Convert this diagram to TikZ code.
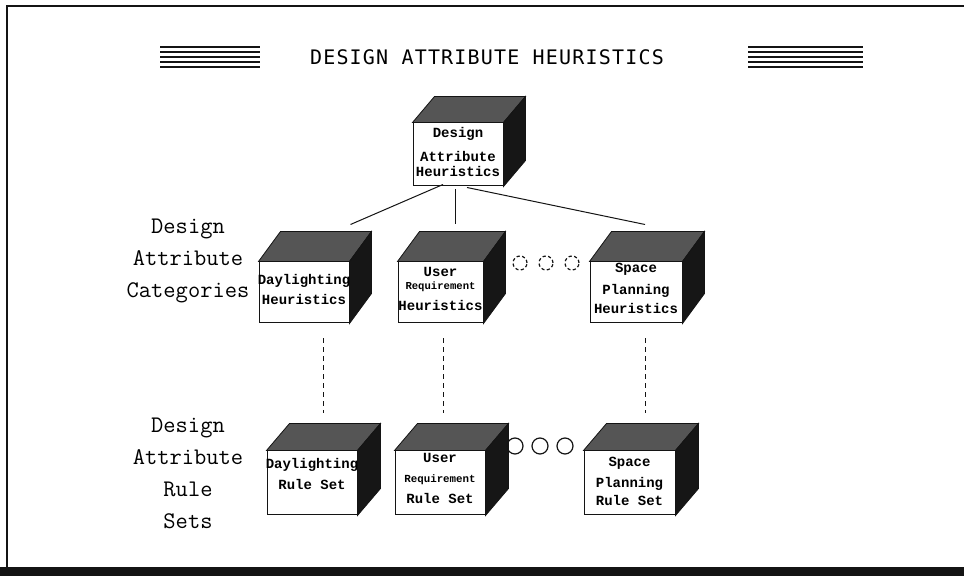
\documentclass[tikz,border=0pt]{standalone}
\usepackage{fontspec}
\usepackage{tikz}
\usetikzlibrary{calc}
\newfontfamily\titlefont[LetterSpace=6]{DejaVu Sans Mono}
\newfontfamily\boxfont{Liberation Mono}
\definecolor{figline}{RGB}{20,20,20}
\definecolor{figtop}{RGB}{85,85,85}
\definecolor{figside}{RGB}{22,22,22}
\tikzset{
  frm/.style   ={draw=figline, line width=1.2pt},
  hl/.style    ={draw=figline, line width=0.55pt},
  cfront/.style={draw=figline, line width=0.5pt, fill=white, inner sep=0pt},
  ctext/.style ={align=center, inner sep=0pt, font=\boxfont\bfseries\fontsize{7}{9}\selectfont},
  ctop/.style  ={fill=figtop, draw=figline, line width=0.4pt},
  cside/.style ={fill=figside, draw=figline, line width=0.4pt},
  lnk/.style   ={draw=figline, line width=0.5pt},
  dlnk/.style  ={draw=figline, line width=0.45pt, dash pattern=on 2.5pt off 2pt},
  side/.style  ={font=\ttfamily\fontsize{11.9}{16}\selectfont, align=center, inner sep=0pt},
  ttl/.style   ={font=\titlefont\fontsize{10}{12}\selectfont, inner sep=0pt},
  ring/.style  ={draw=figline, line width=0.6pt},
}
\begin{document}
\begin{tikzpicture}[x=0.5pt,y=-0.5pt]
  \useasboundingbox (0,0) rectangle (964,576);
  \fill[white] (0,0) rectangle (964,576);
  \draw[frm] (7,567) -- (7,6) -- (964,6);
  \fill[figline] (0,567) rectangle (964,576);
  \node[ttl] (hd) at (487,57) {DESIGN ATTRIBUTE HEURISTICS};
  \draw[hl] (160,47) -- (260,47);
  \draw[hl] (160,52) -- (260,52);
  \draw[hl] (160,57) -- (260,57);
  \draw[hl] (160,62) -- (260,62);
  \draw[hl] (160,67) -- (260,67);
  \draw[hl] (748,47) -- (863,47);
  \draw[hl] (748,52) -- (863,52);
  \draw[hl] (748,57) -- (863,57);
  \draw[hl] (748,62) -- (863,62);
  \draw[hl] (748,67) -- (863,67);
  \node[side] (cat) at (188,260.5) {Design\\Attribute\\Categories};
  \node[side] (rst) at (188,473.5) {Design\\Attribute\\Rule\\Sets};
  \node[cfront, minimum width=45pt, minimum height=31.5pt] (dah) at (458,154.5) {};
  \fill[ctop] (dah.north west) -- ($(dah.north west)+(22,-26)$) -- ($(dah.north east)+(22,-26)$) -- (dah.north east) -- cycle;
  \fill[cside] (dah.north east) -- ($(dah.north east)+(22,-26)$) -- ($(dah.south east)+(22,-26)$) -- (dah.south east) -- cycle;
  \node[ctext] (daht) at (458,152) {Design\\[3pt]Attribute\\[-1.3pt]Heuristics};
  \node[cfront, minimum width=45pt, minimum height=30.5pt] (dlh) at (304,292.5) {};
  \fill[ctop] (dlh.north west) -- ($(dlh.north west)+(22,-30)$) -- ($(dlh.north east)+(22,-30)$) -- (dlh.north east) -- cycle;
  \fill[cside] (dlh.north east) -- ($(dlh.north east)+(22,-30)$) -- ($(dlh.south east)+(22,-30)$) -- (dlh.south east) -- cycle;
  \node[ctext] (dlht) at (304,289.5) {Daylighting\\[0.7pt]Heuristics};
  \node[cfront, minimum width=42.5pt, minimum height=30.5pt] (urh) at (440.5,292.5) {};
  \fill[ctop] (urh.north west) -- ($(urh.north west)+(22,-30)$) -- ($(urh.north east)+(22,-30)$) -- (urh.north east) -- cycle;
  \fill[cside] (urh.north east) -- ($(urh.north east)+(22,-30)$) -- ($(urh.south east)+(22,-30)$) -- (urh.south east) -- cycle;
  \node[ctext] (urht) at (440.5,289) {User\\[-2.7pt]{\fontsize{5.3}{9}\selectfont Requirement}\\[1.8pt]Heuristics};
  \node[cfront, minimum width=46pt, minimum height=30.5pt] (sph) at (636,292.5) {};
  \fill[ctop] (sph.north west) -- ($(sph.north west)+(22,-30)$) -- ($(sph.north east)+(22,-30)$) -- (sph.north east) -- cycle;
  \fill[cside] (sph.north east) -- ($(sph.north east)+(22,-30)$) -- ($(sph.south east)+(22,-30)$) -- (sph.south east) -- cycle;
  \node[ctext] (spht) at (636,288.5) {Space\\[1.8pt]Planning\\[0.7pt]Heuristics};
  \node[cfront, minimum width=45pt, minimum height=32pt] (dlr) at (312,483) {};
  \fill[ctop] (dlr.north west) -- ($(dlr.north west)+(23,-27)$) -- ($(dlr.north east)+(23,-27)$) -- (dlr.north east) -- cycle;
  \fill[cside] (dlr.north east) -- ($(dlr.north east)+(23,-27)$) -- ($(dlr.south east)+(23,-27)$) -- (dlr.south east) -- cycle;
  \node[ctext] (dlrt) at (312,474) {Daylighting\\[1.8pt]Rule Set};
  \node[cfront, minimum width=45pt, minimum height=32pt] (urr) at (440,483) {};
  \fill[ctop] (urr.north west) -- ($(urr.north west)+(23,-27)$) -- ($(urr.north east)+(23,-27)$) -- (urr.north east) -- cycle;
  \fill[cside] (urr.north east) -- ($(urr.north east)+(23,-27)$) -- ($(urr.south east)+(23,-27)$) -- (urr.south east) -- cycle;
  \node[ctext] (urrt) at (440,478.5) {User\\[1pt]{\fontsize{5.4}{9}\selectfont Requirement}\\[1.5pt]Rule Set};
  \node[cfront, minimum width=45.5pt, minimum height=32pt] (spr) at (629.5,483) {};
  \fill[ctop] (spr.north west) -- ($(spr.north west)+(23,-27)$) -- ($(spr.north east)+(23,-27)$) -- (spr.north east) -- cycle;
  \fill[cside] (spr.north east) -- ($(spr.north east)+(23,-27)$) -- ($(spr.south east)+(23,-27)$) -- (spr.south east) -- cycle;
  \node[ctext] (sprt) at (629.5,481.5) {Space\\[1.5pt]Planning\\[0pt]Rule Set};
  \draw[lnk] ($(dah.south)+(-15,-2)$) -- ($(dlh.north east)+(1,-37)$);
  \draw[lnk] ($(dah.south)+(-3,3)$) -- ($(urh.north)+(14.5,-37)$);
  \draw[lnk] ($(dah.south)+(9,1)$) -- ($(sph.north)+(9,-37)$);
  \draw[dlnk] ($(dlh.south)+(19,15)$) -- ($(dlr.north)+(11,-37)$);
  \draw[dlnk] ($(urh.south)+(2.5,15)$) -- ($(urr.north)+(3,-37)$);
  \draw[dlnk] ($(sph.south)+(9,15)$) -- ($(spr.north)+(15.5,-37)$);
  \draw[ring, dash pattern=on 1.6pt off 1.2pt] (520,263) circle (3.5pt);
  \draw[ring, dash pattern=on 1.6pt off 1.2pt] (546,263) circle (3.5pt);
  \draw[ring, dash pattern=on 1.6pt off 1.2pt] (572,263) circle (3.5pt);
  \draw[ring] (515,446) circle (4pt);
  \draw[ring] (540,446) circle (4pt);
  \draw[ring] (565,446) circle (4pt);
\end{tikzpicture}
\end{document}
